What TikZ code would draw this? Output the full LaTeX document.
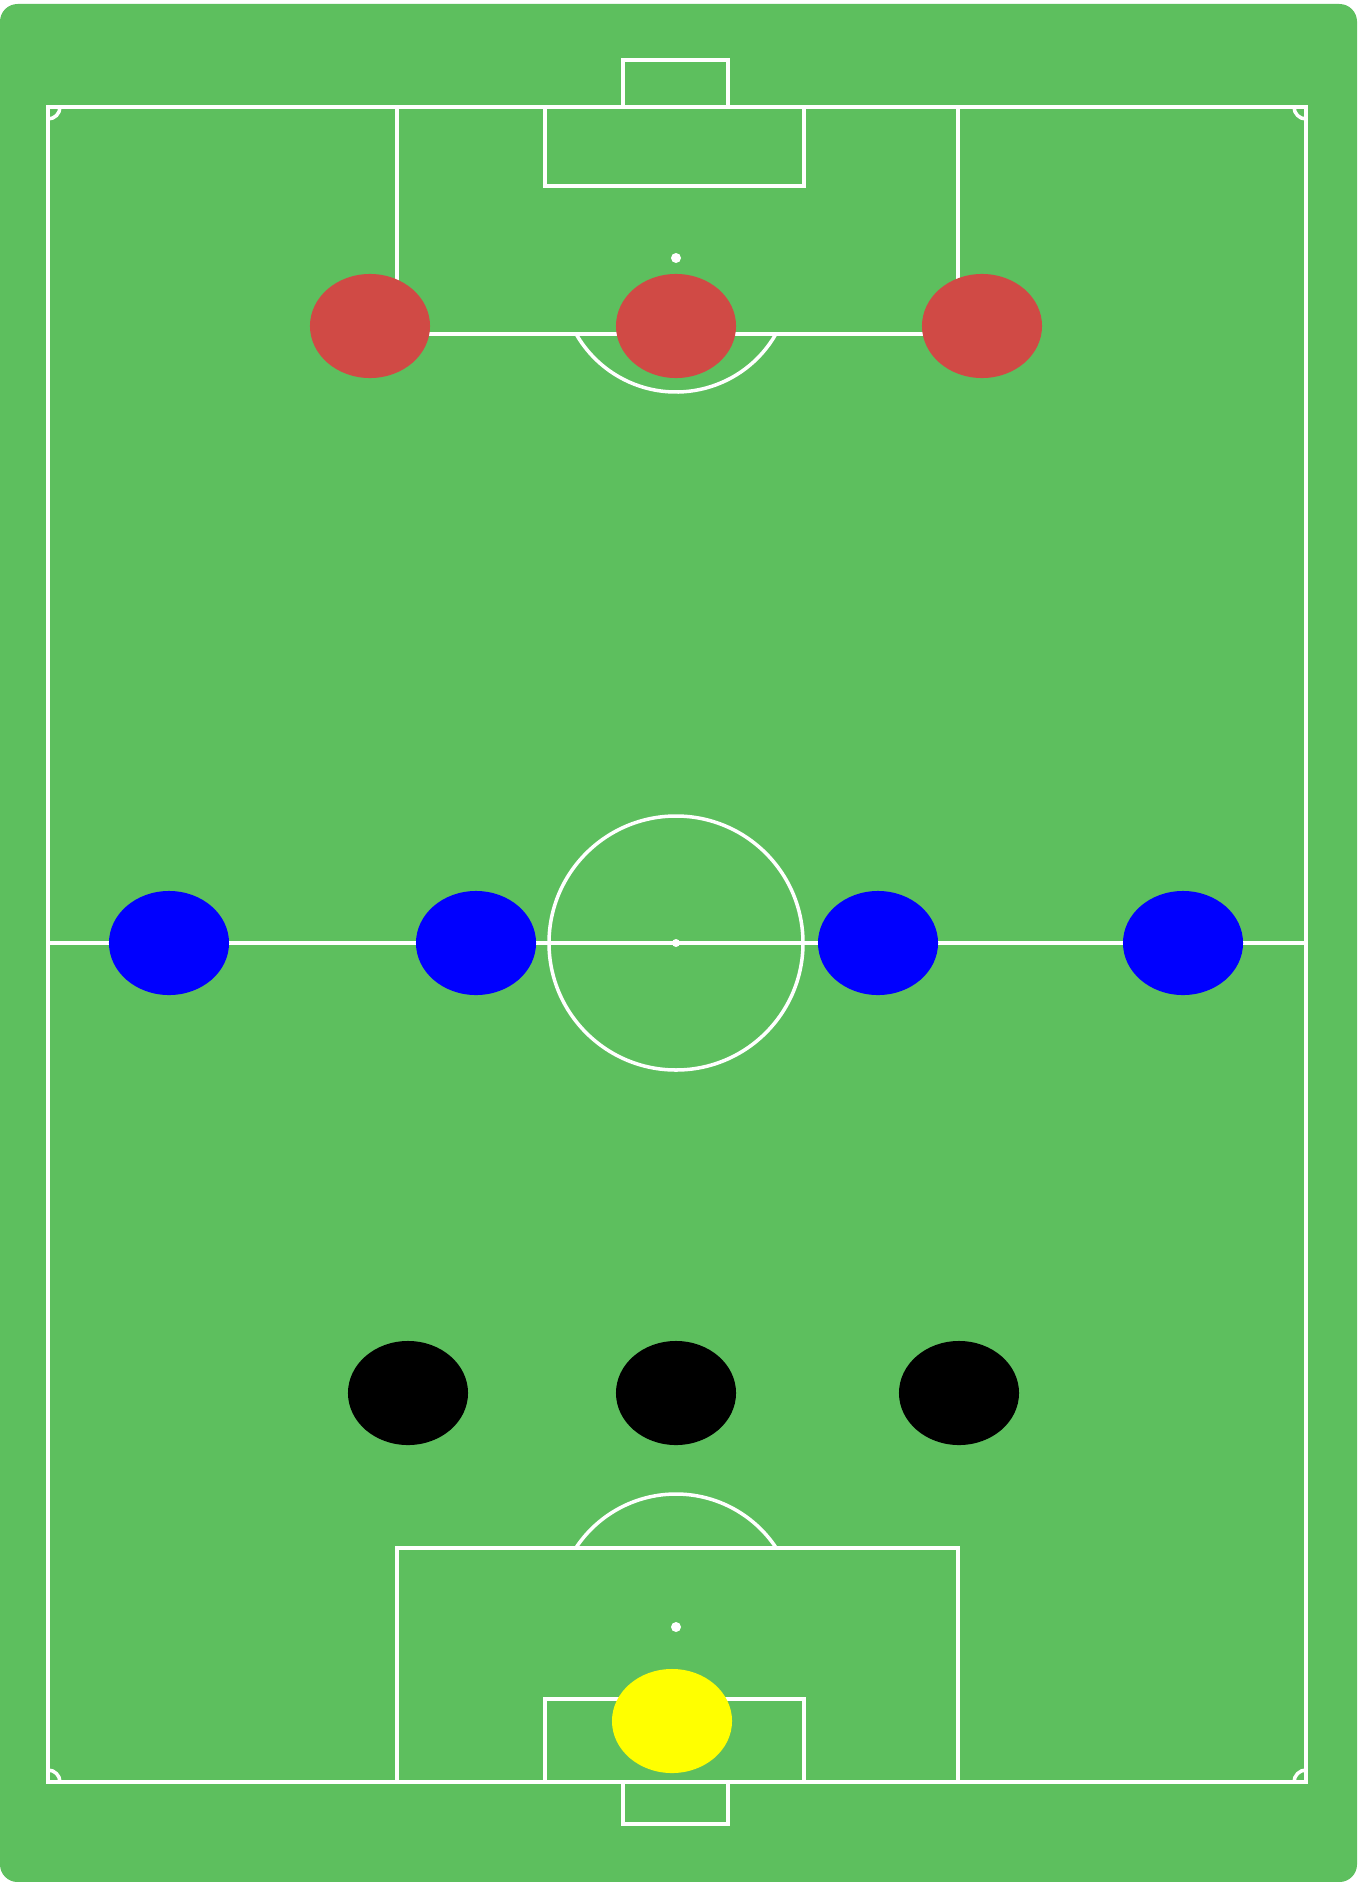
\documentclass[tikz,border=0pt]{standalone}
\usepackage{xcolor}
\usepackage{tikz}
\usetikzlibrary{shapes.geometric}
\definecolor{pitch green}{HTML}{5DBF5E}
\definecolor{red team}{HTML}{D04A45}
\definecolor{blue team}{HTML}{0000FF}
\definecolor{keeper yellow}{HTML}{FFFF00}
\begin{document}
\begin{tikzpicture}[x=0.01cm,y=-0.01cm,
pitch line/.style={draw=white,line width=1pt},
spot/.style={fill=white},
player/.style={ellipse,minimum width=1.2cm,minimum height=1.04cm,inner sep=0pt}]
% the grass
\useasboundingbox (0,0) rectangle (1360,1882);
\fill[white] (0,0) rectangle (1360,1882);
\fill[pitch green,rounded corners=5] (0,4) rectangle (1357,1882);
% touch lines and halfway line
\draw[pitch line] (48,107) rectangle (1306,1782);
\draw[pitch line] (48,943) -- (1306,943);
\draw[pitch line] (676,943) circle[radius=127];
\fill[spot] (676,943) circle[radius=4];
% corner arcs
\draw[pitch line] (60,107) arc[start angle=0,end angle=90,radius=12];
\draw[pitch line] (1306,119) arc[start angle=90,end angle=180,radius=12];
\draw[pitch line] (48,1770) arc[start angle=-90,end angle=0,radius=12];
\draw[pitch line] (1294,1782) arc[start angle=180,end angle=270,radius=12];
% top end
\draw[pitch line] (623,107) -- (623,60) -- (728,60) -- (728,107);
\draw[pitch line] (545,107) rectangle (804,186);
\draw[pitch line] (397,107) rectangle (958,334);
\fill[spot] (676,258) circle[radius=5];
\draw[pitch line] ([shift={(30:115)}]676,277) arc[start angle=30,end angle=150,radius=115];
% bottom end
\draw[pitch line] (623,1782) -- (623,1824) -- (728,1824) -- (728,1782);
\draw[pitch line] (545,1699) rectangle (804,1782);
\draw[pitch line] (397,1548) rectangle (958,1782);
\fill[spot] (676,1627) circle[radius=5];
\draw[pitch line] ([shift={(-33:120)}]676,1614) arc[start angle=-33,end angle=-147,radius=120];
% the players
\foreach \player/\x in {1/370,2/676,3/982}
\node[player,fill=red team] (red player \player) at (\x,326) {};
\foreach \player/\x in {1/169,2/476,3/878,4/1183}
\node[player,fill=blue team] (blue player \player) at (\x,943) {};
\foreach \player/\x in {1/408,2/676,3/959}
\node[player,fill=black] (black player \player) at (\x,1393) {};
\node[player,fill=keeper yellow] (keeper) at (672,1721) {};
\end{tikzpicture}
\end{document}
